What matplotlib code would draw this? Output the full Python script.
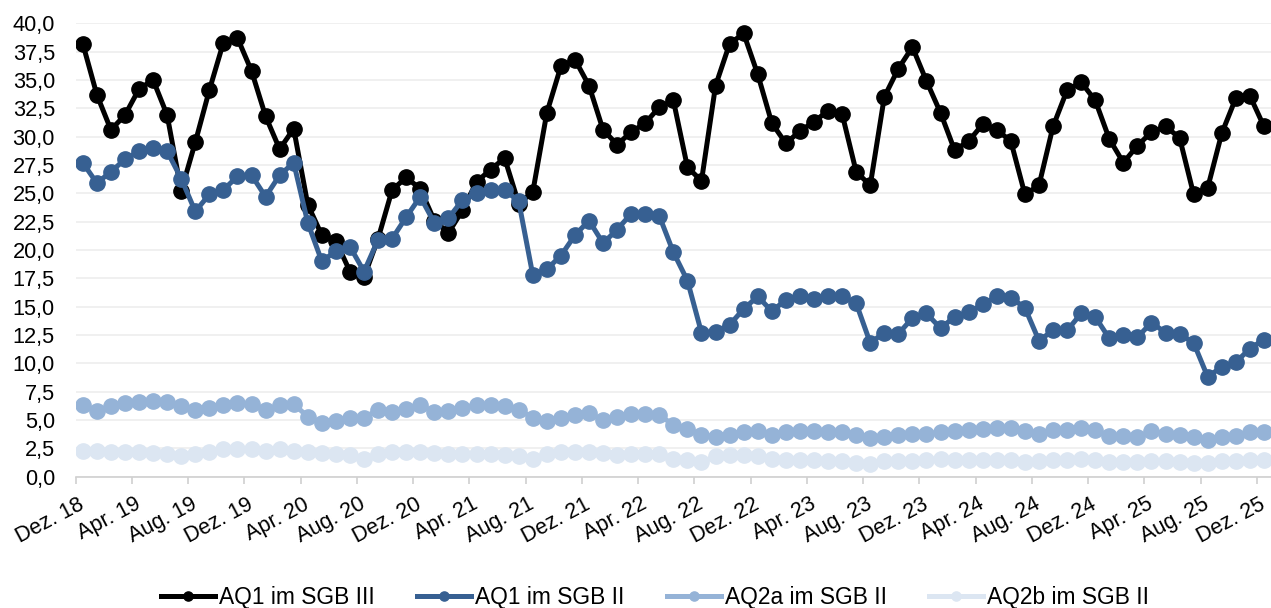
import matplotlib
matplotlib.use("Agg")
import matplotlib.pyplot as plt
import matplotlib.transforms as mtransforms
import numpy as np

plt.rcParams['font.family'] = ['Liberation Sans', 'DejaVu Sans']

# monthly data Dez. 2018 – Dez. 2025
aq1_sgb3 = [38.2, 33.7, 30.6, 31.9, 34.2, 35.0, 31.9, 25.2, 29.5, 34.1,
            38.3, 38.7, 35.8, 31.8, 28.9, 30.7, 24.0, 21.3, 20.8, 18.1,
            17.6, 21.0, 25.3, 26.4, 25.4, 22.6, 21.5, 23.5, 26.0, 27.1,
            28.1, 24.1, 25.1, 32.1, 36.2, 36.8, 34.5, 30.6, 29.3, 30.4,
            31.2, 32.6, 33.2, 27.3, 26.1, 34.5, 38.2, 39.1, 35.5, 31.2,
            29.4, 30.5, 31.3, 32.3, 32.0, 26.9, 25.7, 33.5, 36.0, 37.9,
            34.9, 32.1, 28.8, 29.6, 31.1, 30.6, 29.6, 24.9, 25.7, 30.9,
            34.1, 34.8, 33.2, 29.8, 27.7, 29.2, 30.4, 30.9, 29.9, 24.9,
            25.5, 30.3, 33.4, 33.6, 30.9]
aq1_sgb2 = [27.7, 25.9, 26.9, 28.0, 28.7, 29.0, 28.7, 26.3, 23.4, 24.9,
            25.3, 26.5, 26.6, 24.7, 26.6, 27.7, 22.4, 19.0, 19.9, 20.3,
            18.1, 20.9, 21.0, 22.9, 24.7, 22.4, 22.8, 24.4, 25.0, 25.3,
            25.3, 24.3, 17.8, 18.3, 19.5, 21.3, 22.6, 20.6, 21.8, 23.2,
            23.2, 23.0, 19.8, 17.3, 12.7, 12.8, 13.4, 14.8, 15.9, 14.6,
            15.6, 15.9, 15.7, 15.9, 15.9, 15.3, 11.8, 12.7, 12.6, 14.0,
            14.4, 13.1, 14.1, 14.5, 15.2, 15.9, 15.8, 14.9, 12.0, 12.9,
            12.9, 14.4, 14.1, 12.2, 12.5, 12.3, 13.6, 12.7, 12.6, 11.8,
            8.8, 9.7, 10.1, 11.3, 12.1]
aq2a_sgb2 = [6.3, 5.8, 6.2, 6.5, 6.6, 6.7, 6.6, 6.2, 5.9, 6.1,
             6.3, 6.5, 6.4, 5.9, 6.3, 6.4, 5.3, 4.7, 4.9, 5.2,
             5.2, 5.9, 5.7, 6.0, 6.3, 5.7, 5.8, 6.1, 6.3, 6.3,
             6.2, 5.9, 5.2, 4.9, 5.2, 5.4, 5.6, 5.0, 5.3, 5.5,
             5.5, 5.4, 4.6, 4.2, 3.7, 3.5, 3.7, 3.9, 4.0, 3.7,
             3.9, 4.0, 4.0, 3.9, 3.9, 3.7, 3.4, 3.5, 3.7, 3.8,
             3.8, 3.9, 4.0, 4.1, 4.2, 4.3, 4.3, 4.0, 3.8, 4.1,
             4.1, 4.3, 4.1, 3.6, 3.6, 3.5, 4.0, 3.8, 3.7, 3.5,
             3.2, 3.5, 3.6, 3.9, 3.9]
aq2b_sgb2 = [2.3, 2.3, 2.2, 2.2, 2.2, 2.1, 2.0, 1.8, 2.0, 2.2,
             2.4, 2.4, 2.4, 2.3, 2.4, 2.3, 2.2, 2.1, 2.0, 1.9,
             1.6, 2.0, 2.2, 2.2, 2.2, 2.1, 2.0, 2.0, 2.0, 2.0,
             1.9, 1.8, 1.6, 2.0, 2.2, 2.2, 2.2, 2.1, 1.9, 2.0,
             2.0, 2.0, 1.6, 1.5, 1.3, 1.8, 1.9, 1.9, 1.8, 1.6,
             1.5, 1.5, 1.5, 1.4, 1.4, 1.2, 1.1, 1.4, 1.4, 1.4,
             1.5, 1.6, 1.5, 1.5, 1.5, 1.5, 1.5, 1.3, 1.4, 1.5,
             1.5, 1.6, 1.5, 1.3, 1.3, 1.3, 1.4, 1.4, 1.3, 1.2,
             1.2, 1.4, 1.4, 1.5, 1.5]

months = ["Dez.", "Jan.", "Feb.", "Mrz.", "Apr.", "Mai", "Jun.", "Jul.",
          "Aug.", "Sep.", "Okt.", "Nov."]
labels = []
for i in range(85):
    m = i % 12
    y = 18 + (i + 11) // 12
    labels.append(f"{months[m]} {y}")

series = [
    ("AQ1 im SGB III", aq1_sgb3, "#000000"),
    ("AQ1 im SGB II", aq1_sgb2, "#376092"),
    ("AQ2a im SGB II", aq2a_sgb2, "#95B3D7"),
    ("AQ2b im SGB II", aq2b_sgb2, "#DCE6F2"),
]

fig = plt.figure(figsize=(12.71, 6.08), dpi=100)
ax = fig.add_axes([0.0596, 0.216, 0.9404, 0.7457])
x = np.arange(85)
for name, vals, col in series:
    ax.plot(x, vals, color=col, lw=3.6, marker='o', ms=11, label=name,
            solid_joinstyle='round', zorder=3)

ax.set_xlim(-0.5, 84.5)
ax.set_ylim(0, 40)
yt = np.arange(0, 40.01, 2.5)
ax.set_yticks(yt)
ax.set_yticklabels([f"{v:.1f}".replace('.', ',') for v in yt], fontsize=15.7)
ax.yaxis.grid(True, color='#eeeeee', lw=1.2, zorder=0)
ax.tick_params(axis='y', length=0, pad=15)

ax.set_xticks(x[::4])
ax.set_xticklabels([labels[i] for i in range(0, 85, 4)], rotation=28,
                   ha='right', va='center', rotation_mode='anchor', fontsize=15.5)
off = mtransforms.ScaledTranslation(-2 / 100, 0, fig.dpi_scale_trans)
for lab in ax.get_xticklabels():
    lab.set_transform(lab.get_transform() + off)
ax.set_xticks(np.arange(-0.5, 85, 4), minor=True)
ax.tick_params(axis='x', which='major', length=0, pad=19)
ax.tick_params(axis='x', which='minor', length=5, color='#d0d0d0', width=1.2)

for s in ['top', 'right', 'left']:
    ax.spines[s].set_visible(False)
ax.spines['bottom'].set_color('#d0d0d0')
ax.spines['bottom'].set_linewidth(1.2)

handles, lbls = ax.get_legend_handles_labels()
leg = fig.legend(handles, lbls, loc='center', bbox_to_anchor=(0.5153, 0.018),
                 ncol=4, frameon=False, fontsize=16.4, handlelength=2.37,
                 columnspacing=1.85, handletextpad=0.18, markerscale=0.6)

fig.savefig("out.png", dpi=100)
